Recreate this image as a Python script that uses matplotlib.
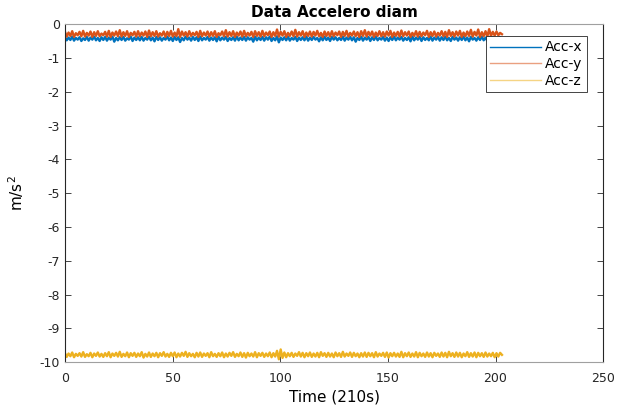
import numpy as np
import matplotlib.pyplot as plt

plt.rcParams['font.family'] = ['DejaVu Sans']
plt.rcParams['axes.unicode_minus'] = False

# accelerometer readings (m/s^2), logged over ~203 s
acc_x = [
    -0.38, -0.48, -0.40, -0.47, -0.37, -0.49, -0.41, -0.46, -0.39, -0.50, -0.42, -0.47,
    -0.38, -0.49, -0.40, -0.46, -0.37, -0.48, -0.41, -0.50, -0.39, -0.47, -0.38, -0.49,
    -0.40, -0.46, -0.37, -0.52, -0.41, -0.48, -0.39, -0.47, -0.38, -0.49, -0.42, -0.46,
    -0.37, -0.50, -0.40, -0.47, -0.39, -0.48, -0.38, -0.49, -0.41, -0.46, -0.37, -0.48,
    -0.40, -0.51, -0.38, -0.47, -0.39, -0.49, -0.41, -0.46, -0.37, -0.48, -0.40, -0.50,
    -0.38, -0.47, -0.39, -0.53, -0.41, -0.48, -0.37, -0.46, -0.40, -0.49, -0.38, -0.47,
    -0.39, -0.50, -0.37, -0.48, -0.41, -0.46, -0.38, -0.49, -0.40, -0.47, -0.39, -0.51,
    -0.37, -0.48, -0.40, -0.46, -0.38, -0.50, -0.41, -0.47, -0.39, -0.49, -0.37, -0.48,
    -0.40, -0.47, -0.38, -0.49, -0.39, -0.46, -0.41, -0.52, -0.37, -0.48, -0.40, -0.47,
    -0.38, -0.49, -0.39, -0.46, -0.37, -0.50, -0.41, -0.48, -0.36, -0.54, -0.40, -0.47,
    -0.39, -0.48, -0.37, -0.49, -0.41, -0.46, -0.38, -0.50, -0.40, -0.47, -0.39, -0.48,
    -0.37, -0.49, -0.40, -0.47, -0.38, -0.46, -0.41, -0.51, -0.39, -0.48, -0.37, -0.47,
    -0.40, -0.50, -0.38, -0.46, -0.39, -0.48, -0.41, -0.47, -0.37, -0.49, -0.40, -0.46,
    -0.38, -0.48, -0.39, -0.52, -0.41, -0.47, -0.37, -0.49, -0.40, -0.46, -0.38, -0.50,
    -0.39, -0.47, -0.37, -0.48, -0.41, -0.46, -0.38, -0.49, -0.40, -0.50, -0.39, -0.47,
    -0.37, -0.48, -0.40, -0.46, -0.38, -0.49, -0.41, -0.47, -0.39, -0.51, -0.37, -0.48,
    -0.40, -0.46, -0.38, -0.50, -0.39, -0.47, -0.41, -0.48, -0.37, -0.49, -0.40, -0.46,
    -0.38, -0.49, -0.39, -0.47, -0.37, -0.48, -0.41, -0.50, -0.38, -0.46, -0.40, -0.49,
    -0.39, -0.47, -0.37, -0.48, -0.40, -0.51, -0.38, -0.46, -0.41, -0.49, -0.39, -0.47,
    -0.37, -0.48, -0.40, -0.50, -0.38, -0.46, -0.39, -0.49, -0.41, -0.47, -0.38, -0.44,
]
acc_y = [
    -0.22, -0.37, -0.25, -0.35, -0.21, -0.38, -0.27, -0.33, -0.23, -0.36, -0.20, -0.37,
    -0.26, -0.34, -0.22, -0.38, -0.24, -0.35, -0.21, -0.36, -0.28, -0.33, -0.23, -0.37,
    -0.20, -0.38, -0.25, -0.34, -0.22, -0.36, -0.18, -0.37, -0.24, -0.35, -0.21, -0.38,
    -0.26, -0.33, -0.23, -0.37, -0.21, -0.36, -0.25, -0.34, -0.22, -0.38, -0.19, -0.36,
    -0.24, -0.35, -0.21, -0.37, -0.27, -0.34, -0.22, -0.38, -0.23, -0.35, -0.20, -0.37,
    -0.25, -0.36, -0.15, -0.38, -0.22, -0.34, -0.24, -0.37, -0.21, -0.35, -0.26, -0.33,
    -0.23, -0.38, -0.20, -0.36, -0.25, -0.34, -0.22, -0.37, -0.24, -0.35, -0.21, -0.38,
    -0.27, -0.33, -0.22, -0.36, -0.18, -0.37, -0.24, -0.35, -0.21, -0.38, -0.25, -0.34,
    -0.22, -0.37, -0.20, -0.36, -0.26, -0.34, -0.23, -0.38, -0.21, -0.35, -0.24, -0.37,
    -0.20, -0.36, -0.25, -0.33, -0.22, -0.38, -0.24, -0.35, -0.16, -0.37, -0.23, -0.34,
    -0.21, -0.38, -0.26, -0.35, -0.22, -0.36, -0.17, -0.37, -0.24, -0.34, -0.21, -0.38,
    -0.25, -0.35, -0.22, -0.37, -0.23, -0.34, -0.20, -0.36, -0.26, -0.38, -0.22, -0.35,
    -0.24, -0.37, -0.21, -0.36, -0.25, -0.33, -0.22, -0.38, -0.23, -0.35, -0.20, -0.37,
    -0.26, -0.34, -0.22, -0.36, -0.24, -0.38, -0.21, -0.35, -0.18, -0.37, -0.23, -0.34,
    -0.22, -0.38, -0.25, -0.35, -0.21, -0.36, -0.24, -0.37, -0.22, -0.34, -0.20, -0.38,
    -0.25, -0.35, -0.23, -0.37, -0.19, -0.36, -0.24, -0.34, -0.22, -0.38, -0.26, -0.35,
    -0.21, -0.37, -0.23, -0.36, -0.25, -0.33, -0.20, -0.38, -0.24, -0.35, -0.22, -0.37,
    -0.26, -0.34, -0.21, -0.36, -0.23, -0.38, -0.18, -0.35, -0.24, -0.37, -0.22, -0.34,
    -0.20, -0.38, -0.25, -0.36, -0.22, -0.35, -0.17, -0.37, -0.23, -0.34, -0.16, -0.38,
    -0.24, -0.36, -0.21, -0.37, -0.15, -0.35, -0.23, -0.34, -0.22, -0.33, -0.26, -0.30,
]
acc_z = [
    -9.72, -9.84, -9.74, -9.82, -9.71, -9.85, -9.75, -9.81, -9.73, -9.83, -9.70, -9.84,
    -9.76, -9.82, -9.72, -9.85, -9.74, -9.81, -9.71, -9.83, -9.75, -9.84, -9.73, -9.82,
    -9.70, -9.85, -9.74, -9.81, -9.72, -9.83, -9.69, -9.84, -9.75, -9.82, -9.71, -9.85,
    -9.73, -9.81, -9.72, -9.84, -9.74, -9.82, -9.70, -9.86, -9.75, -9.83, -9.71, -9.84,
    -9.74, -9.82, -9.72, -9.85, -9.73, -9.81, -9.70, -9.83, -9.75, -9.84, -9.72, -9.82,
    -9.71, -9.85, -9.74, -9.83, -9.72, -9.81, -9.69, -9.84, -9.73, -9.82, -9.75, -9.85,
    -9.72, -9.83, -9.71, -9.84, -9.74, -9.81, -9.73, -9.85, -9.70, -9.82, -9.75, -9.84,
    -9.73, -9.82, -9.71, -9.85, -9.74, -9.83, -9.72, -9.81, -9.70, -9.84, -9.75, -9.82,
    -9.71, -9.84, -9.73, -9.86, -9.72, -9.82, -9.74, -9.83, -9.70, -9.85, -9.73, -9.81,
    -9.72, -9.84, -9.74, -9.82, -9.71, -9.85, -9.73, -9.83, -9.66, -9.91, -9.62, -9.87,
    -9.71, -9.85, -9.73, -9.82, -9.72, -9.84, -9.74, -9.81, -9.70, -9.83, -9.72, -9.85,
    -9.73, -9.82, -9.71, -9.84, -9.74, -9.83, -9.72, -9.85, -9.70, -9.81, -9.73, -9.84,
    -9.72, -9.83, -9.74, -9.85, -9.71, -9.82, -9.73, -9.84, -9.69, -9.83, -9.74, -9.81,
    -9.71, -9.84, -9.72, -9.82, -9.74, -9.85, -9.73, -9.83, -9.71, -9.84, -9.72, -9.82,
    -9.73, -9.85, -9.70, -9.83, -9.74, -9.81, -9.72, -9.84, -9.71, -9.86, -9.73, -9.82,
    -9.72, -9.83, -9.74, -9.84, -9.69, -9.85, -9.73, -9.82, -9.71, -9.84, -9.74, -9.83,
    -9.70, -9.85, -9.72, -9.82, -9.74, -9.84, -9.71, -9.83, -9.73, -9.85, -9.72, -9.81,
    -9.74, -9.84, -9.71, -9.83, -9.72, -9.85, -9.69, -9.82, -9.73, -9.84, -9.71, -9.83,
    -9.72, -9.85, -9.74, -9.82, -9.70, -9.84, -9.73, -9.83, -9.71, -9.85, -9.72, -9.82,
    -9.73, -9.84, -9.71, -9.83, -9.74, -9.82, -9.72, -9.85, -9.73, -9.83, -9.72, -9.78,
]
labels = ['Acc-x', 'Acc-y', 'Acc-z']
t_end = 203.0
t = np.linspace(0, t_end, len(acc_x))

colors = ['#0072BD', '#D95319', '#EDB120']

fig = plt.figure(figsize=(6.18, 4.08), dpi=100)
ax = fig.add_axes([0.105, 0.112, 0.871, 0.829])

for vals, lab, c in zip([acc_x, acc_y, acc_z], labels, colors):
    ax.plot(t, vals, color=c, lw=1.7, label=lab)

ax.set_xlim(0, 250)
ax.set_ylim(-10, 0)
ax.set_xticks(np.arange(0, 251, 50))
ax.set_yticks(np.arange(-10, 1, 1))
ax.tick_params(direction='in', top=True, right=True, labelsize=9,
               length=4, width=0.6, colors='#262626')
ax.tick_params(axis='x', pad=7)
for side in ['left', 'right']:
    ax.spines[side].set_color('#262626')
for side in ['top', 'bottom']:
    ax.spines[side].set_color('#a0a0a0')
for s in ax.spines.values():
    s.set_linewidth(0.8)

ax.set_title('Data Accelero diam', fontsize=11, fontweight='bold', pad=5)
ax.set_xlabel('Time (210s)', fontsize=11, labelpad=3)
ax.set_ylabel('m/s$^2$', fontsize=11, labelpad=10)

leg = ax.legend(loc='upper right', bbox_to_anchor=(0.970, 0.964), borderaxespad=0,
                fontsize=10, handlelength=3.7, fancybox=False, framealpha=1,
                borderpad=0.3, labelspacing=0.2, handletextpad=0.3)
leg.get_frame().set_edgecolor('#262626')
leg.get_frame().set_linewidth(0.6)
for h in leg.get_lines():
    h.set_linewidth(1.0)
leg.get_lines()[1].set_alpha(0.55)
leg.get_lines()[2].set_alpha(0.55)

fig.savefig('out.png', dpi=100)
